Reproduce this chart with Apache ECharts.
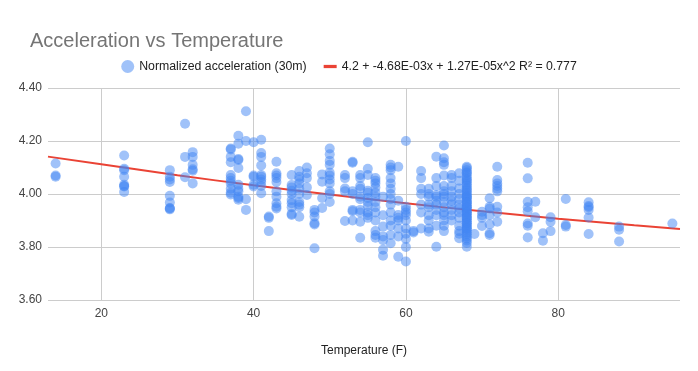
<!DOCTYPE html>
<html>
<head>
<meta charset="utf-8">
<script src="https://cdn.jsdelivr.net/npm/echarts@6/dist/echarts.min.js"></script>
<style>html,body{margin:0;padding:0;background:#fff;}#c{width:698px;height:371px;}</style>
</head>
<body>
<div id="c"></div>
<script>
// Temperature columns (F) and the normalized acceleration values read at each one
const tempColumns = [14, 23, 29, 31, 32, 37, 38, 39, 40, 41, 42, 43, 45, 46, 47, 48, 49, 50, 52, 53, 54, 55, 56, 57, 58, 59, 60, 61, 62, 63, 64, 65, 66, 67, 68, 69, 70, 71, 72, 76, 77, 78, 79, 81, 84, 88, 95];
const accelByColumn = [
  [4.115, 4.07, 4.065],
  [4.145, 4.095, 4.09, 4.065, 4.035, 4.03, 4.028, 4.008],
  [4.09, 4.065, 4.055, 4.045, 3.993, 3.968, 3.947, 3.942, 3.945],
  [4.265, 4.14, 4.063],
  [4.158, 4.14, 4.11, 4.093, 4.088, 4.04],
  [4.172, 4.168, 4.14, 4.12, 4.072, 4.06, 4.05, 4.04, 4.02, 4.005, 3.998],
  [4.22, 4.19, 4.132, 4.128, 4.098, 4.035, 4.02, 4.01, 3.99, 3.985, 3.978],
  [4.312, 4.2, 3.98, 3.94],
  [4.195, 4.07, 4.065, 4.035, 4.028],
  [4.205, 4.155, 4.14, 4.108, 4.072, 4.065, 4.055, 4.045, 4.03, 4.003],
  [3.915, 3.91, 3.86],
  [4.122, 4.078, 4.07, 4.06, 4.045, 4.01, 3.99, 3.965, 3.952, 3.945],
  [4.072, 4.034, 4.025, 4.012, 4.0, 3.977, 3.965, 3.95, 3.921, 3.925],
  [4.087, 4.065, 4.055, 4.04, 4.02, 4.0, 3.97, 3.95, 3.914, 3.96],
  [4.1, 4.078, 4.06, 4.025, 3.996],
  [3.94, 3.93, 3.915, 3.89, 3.885, 3.795],
  [4.074, 4.046, 3.985, 3.947],
  [4.172, 4.15, 4.125, 4.11, 4.08, 4.07, 4.055, 4.04, 4.01, 4.0, 3.97],
  [4.072, 4.06, 4.021, 4.01, 3.898],
  [4.122, 4.118, 4.01, 4.0, 3.94, 3.935, 3.9],
  [4.072, 4.06, 4.03, 4.02, 3.99, 3.98, 3.94, 3.93, 3.895, 3.835],
  [4.195, 4.095, 4.072, 4.012, 4.005, 3.985, 3.97, 3.955, 3.93, 3.92, 3.91],
  [4.06, 4.05, 4.04, 4.025, 4.005, 3.99, 3.97, 3.95, 3.93, 3.9, 3.86, 3.845, 3.835],
  [3.99, 3.92, 3.877, 3.84, 3.826, 3.79, 3.767],
  [4.11, 4.1, 4.09, 4.06, 4.04, 4.02, 4.0, 3.98, 3.96, 3.93, 3.9, 3.88, 3.845, 3.814],
  [4.103, 3.975, 3.921, 3.91, 3.9, 3.87, 3.84, 3.763],
  [4.2, 3.952, 3.94, 3.93, 3.92, 3.9, 3.87, 3.85, 3.83, 3.8, 3.745],
  [3.86, 3.855],
  [4.087, 4.06, 4.02, 4.0, 3.96, 3.93, 3.87],
  [4.02, 4.0, 3.99, 3.96, 3.95, 3.92, 3.9, 3.87, 3.858],
  [4.141, 4.06, 4.03, 3.996, 3.99, 3.975, 3.96, 3.94, 3.92, 3.88, 3.801],
  [4.183, 4.135, 4.12, 4.11, 4.07, 4.03, 4.01, 4.0, 3.99, 3.97, 3.95, 3.93, 3.92, 3.9, 3.88, 3.86],
  [4.072, 4.06, 4.03, 4.01, 3.99, 3.975, 3.96, 3.94, 3.92, 3.9],
  [4.078, 4.05, 4.021, 4.0, 3.98, 3.96, 3.945, 3.93, 3.91, 3.88, 3.86, 3.85, 3.833],
  [4.103, 4.098, 4.09, 4.082, 4.078, 4.07, 4.061, 4.055, 4.05, 4.043, 4.036, 4.03, 4.022, 4.017, 4.01, 4.004, 3.998, 3.99, 3.985, 3.978, 3.97, 3.963, 3.958, 3.95, 3.944, 3.937, 3.93, 3.924, 3.917, 3.91, 3.903, 3.897, 3.89, 3.882, 3.876, 3.87, 3.862, 3.855, 3.848, 3.84, 3.832, 3.825, 3.815, 3.801, 3.99, 3.97, 3.95, 3.93, 3.91, 3.89, 3.87],
  [3.849],
  [3.933, 3.92, 3.91, 3.879],
  [3.984, 3.952, 3.945, 3.92, 3.885, 3.852, 3.845],
  [4.103, 4.053, 4.04, 4.03, 4.02, 4.01, 3.952, 3.93, 3.895],
  [4.118, 4.059, 3.971, 3.95, 3.935, 3.889, 3.88, 3.836],
  [3.971, 3.912],
  [3.852, 3.824],
  [3.912, 3.895, 3.86],
  [3.981, 3.883, 3.877],
  [3.969, 3.955, 3.95, 3.94, 3.911, 3.849],
  [3.877, 3.865, 3.821],
  [3.889]
];
// Trendline values
const trendTemps = [13, 20, 30, 40, 50, 60, 70, 80, 90, 96];
const trendValues = [4.141, 4.112, 4.071, 4.033, 3.998, 3.965, 3.935, 3.907, 3.882, 3.868];
const xTicks = [20, 40, 60, 80];
const seriesNames = ['Normalized acceleration (30m)', '4.2 + -4.68E-03x + 1.27E-05x^2 R\u00b2 = 0.777'];

const scatterData = [];
tempColumns.forEach((t, i) => accelByColumn[i].forEach(v => scatterData.push([t, v])));
const trendData = trendTemps.map((t, i) => [t, trendValues[i]]);

const FONT = "'Liberation Sans', Arial, sans-serif";
const chart = echarts.init(document.getElementById('c'), null, {renderer: 'canvas'});
chart.setOption({
  animation: false,
  backgroundColor: '#fff',
  textStyle: {fontFamily: FONT},
  title: {
    text: 'Acceleration vs Temperature',
    left: 25, top: 26,
    textStyle: {fontFamily: FONT, fontSize: 20, fontWeight: 'normal', color: '#757575'}
  },
  legend: {
    top: 55,
    left: 'center',
    itemGap: 17,
    itemWidth: 13,
    itemHeight: 13,
    textStyle: {fontFamily: FONT, fontSize: 12.3, color: '#222'},
    data: [
      {name: seriesNames[0], icon: 'circle', itemStyle: {color: '#4285F4', opacity: 0.5}},
      {name: seriesNames[1], icon: 'path://M0,0H12V3H0Z', itemStyle: {color: '#EA4335'}}
    ]
  },
  grid: {left: 48, right: 18, top: 88, bottom: 71},
  xAxis: {
    type: 'value', min: 13, max: 96,
    name: 'Temperature (F)', nameLocation: 'middle', nameGap: 45,
    nameTextStyle: {fontFamily: FONT, fontSize: 12, color: '#222'},
    axisLine: {show: false},
    axisTick: {show: false, customValues: xTicks},
    axisLabel: {customValues: xTicks, color: '#444', fontSize: 12, margin: 8, fontFamily: FONT},
    splitLine: {show: true, lineStyle: {color: '#cccccc', width: 1}}
  },
  yAxis: {
    type: 'value', min: 3.6, max: 4.4, interval: 0.2,
    axisLine: {show: false},
    axisTick: {show: false},
    axisLabel: {color: '#444', fontSize: 12, margin: 6, fontFamily: FONT, formatter: v => v.toFixed(2)},
    splitLine: {show: true, lineStyle: {color: '#cccccc', width: 1}}
  },
  series: [
    {
      name: seriesNames[0], type: 'scatter', z: 3,
      symbol: 'circle', symbolSize: 10,
      itemStyle: {color: '#4285F4', opacity: 0.5},
      data: scatterData
    },
    {
      name: seriesNames[1], type: 'line', z: 2, smooth: true,
      showSymbol: false, symbol: 'none',
      lineStyle: {color: '#EA4335', width: 2},
      itemStyle: {color: '#EA4335'},
      data: trendData
    }
  ]
});
</script>
</body>
</html>
